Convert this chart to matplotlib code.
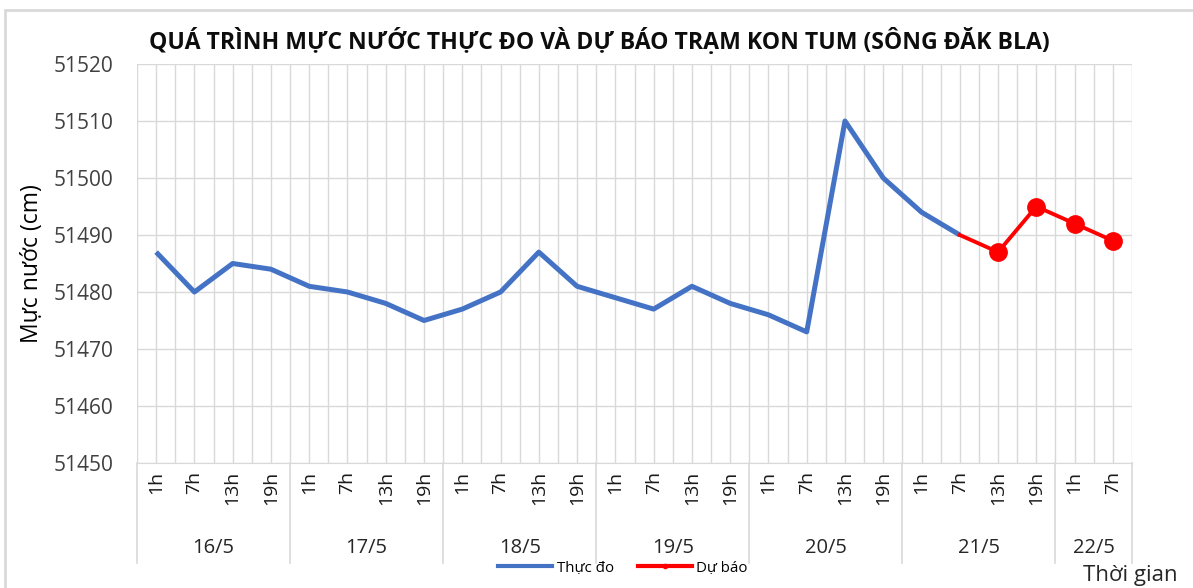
import numpy as np
import matplotlib.pyplot as plt
from matplotlib.transforms import blended_transform_factory
from matplotlib.lines import Line2D
from matplotlib.patches import Rectangle

plt.rcParams['font.family'] = ['Open Sans', 'DejaVu Sans']

days = ['16/5', '17/5', '18/5', '19/5', '20/5', '21/5', '22/5']
hours_per_day = [4, 4, 4, 4, 4, 4, 2]
hour_names = ['1h', '7h', '13h', '19h']

observed = [51487, 51480, 51485, 51484,
            51481, 51480, 51478, 51475,
            51477, 51480, 51487, 51481,
            51479, 51477, 51481, 51478,
            51476, 51473, 51510, 51500,
            51494, 51490]
forecast = [51490, 51487, 51495, 51492, 51489]

hour_labels = []
for n in hours_per_day:
    hour_labels += hour_names[:n]
n_cat = len(hour_labels)
x = np.arange(n_cat)
x_obs = x[:len(observed)]
x_fc = x[len(observed) - 1:]

W, H = 1193, 588
fig = plt.figure(figsize=(W / 100, H / 100), dpi=100)
ax = fig.add_axes([137 / W, 1 - 463 / H, (1132 - 137) / W, (463 - 64) / H])

grid_c = '#d9d9d9'
ax.plot(x_obs, observed, color='#4472C4', lw=3.6, solid_capstyle='butt', zorder=3)
ax.plot(x_fc, forecast, color='#FF0000', lw=2.8, zorder=4)
ax.plot(x_fc[1:], forecast[1:], 'o', color='#FF0000', ms=12.5, zorder=5)

ax.set_xlim(-0.5, n_cat - 0.5)
ax.set_ylim(51450, 51520)
ax.set_yticks(np.arange(51450, 51521, 10))
ax.set_xticks(np.arange(-0.5, n_cat, 0.5))
ax.set_xticklabels([])
ax.grid(True, color=grid_c, lw=1)
ax.tick_params(axis='both', length=0)
ax.tick_params(axis='y', labelsize=15, pad=17, colors='#404040')
for s in ['top', 'right', 'left']:
    ax.spines[s].set_visible(False)
ax.spines['bottom'].set_color(grid_c)

# category labels
tr = blended_transform_factory(ax.transData, fig.transFigure)
for i, lab in enumerate(hour_labels):
    ax.text(i, 1 - 471 / H, lab, transform=tr, rotation=90, ha='center',
            va='top', fontsize=14, color='#1a1a1a')
start = 0
for d, n in zip(days, hours_per_day):
    ax.text(start + (n - 1) / 2, 1 - 548 / H, d, transform=tr, ha='center',
            va='center', fontsize=14.5, color='#262626')
    start += n
bounds = np.concatenate([[0], np.cumsum(hours_per_day)]) - 0.5
for b in bounds:
    ax.add_line(Line2D([b, b], [1 - 463 / H, 1 - 563 / H], transform=tr,
                       color=grid_c, lw=1.2, clip_on=False))

fig.text(599 / W, 1 - 42 / H, 'QUÁ TRÌNH MỰC NƯỚC THỰC ĐO VÀ DỰ BÁO TRẠM KON TUM (SÔNG ĐĂK BLA)',
         ha='center', va='center', fontsize=16.6, fontweight='bold', color='#0d0d0d')
fig.text(32 / W, 1 - 264 / H, 'Mực nước (cm)', rotation=90, ha='center', va='center',
         fontsize=16.5, color='black')
fig.text(1130 / W, 1 - 575 / H, 'Thời gian', ha='center', va='center',
         fontsize=16, color='#262626')

handles = [Line2D([], [], color='#4472C4', lw=3),
           Line2D([], [], color='#FF0000', lw=3, marker='o', ms=3)]
fig.legend(handles, ['Thực đo', 'Dự báo'], loc='center', bbox_to_anchor=(623 / W, 1 - 568 / H),
           ncol=2, frameon=False, fontsize=10.8, handlelength=3.6, handletextpad=0.3,
           columnspacing=1.6)

fig.add_artist(Rectangle((5 / W, -0.1), 1.2, 1 - 10 / H + 0.1, transform=fig.transFigure,
                         fill=False, edgecolor=grid_c, lw=2))

fig.savefig('out.png', dpi=100)
